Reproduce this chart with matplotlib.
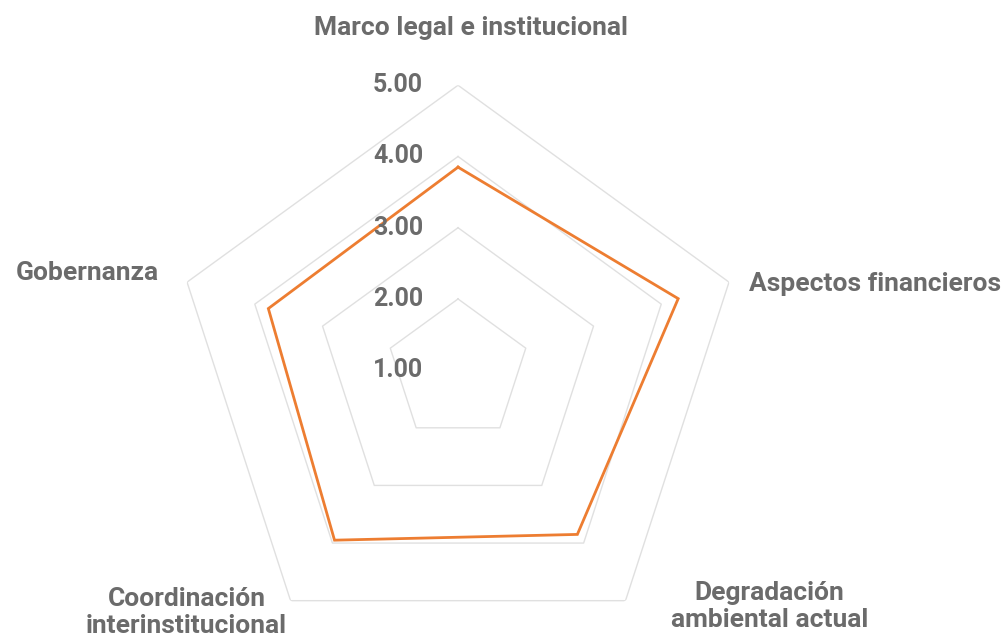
import numpy as np
import matplotlib
matplotlib.use("Agg")
import matplotlib.pyplot as plt

categories = ["Marco legal e institucional", "Aspectos financieros",
              "Degradación\nambiental actual", "Coordinación\ninterinstitucional",
              "Gobernanza"]
values = [3.85, 4.25, 3.85, 3.95, 3.80]
levels = [1.0, 2.0, 3.0, 4.0, 5.0]
level_labels = ["1.00", "2.00", "3.00", "4.00", "5.00"]

TEXT = "#6b6b6b"
GRID = "#e0e0e0"
ORANGE = "#ED7D31"
FONT = ["Roboto", "DejaVu Sans"]

fig = plt.figure(figsize=(10.06, 6.41), dpi=100)
ax = fig.add_axes([0.172, -0.022, 0.5666, 0.889], projection="polar")
ax.set_theta_offset(np.pi / 2)
ax.set_theta_direction(-1)
ax.set_ylim(levels[0], levels[-1])
ax.grid(False)
ax.spines["polar"].set_visible(False)
ax.set_xticks([])
ax.set_yticks([])
ax.patch.set_alpha(0)

n = len(categories)
angles = np.linspace(0, 2 * np.pi, n, endpoint=False)
closed = np.concatenate([angles, angles[:1]])

# pentagon grid rings
for lv in levels[1:]:
    ax.plot(closed, [lv] * (n + 1), color=GRID, lw=1.0, zorder=1)

# data series
vals = values + values[:1]
ax.plot(closed, vals, color=ORANGE, lw=2.0, zorder=3, solid_joinstyle="miter")

# radial value labels along the top spoke
for lv, lab in zip(levels, level_labels):
    ax.annotate(lab, xy=(0, lv), xytext=(-35, 0), textcoords="offset pixels",
                ha="right", va="center", fontsize=18, color=TEXT,
                family=FONT, fontweight="bold", annotation_clip=False)

# category labels around the outer ring
offsets = [(13, 57, "center"), (20, -2, "left"), (144, -6, "center"),
           (-104, -12, "center"), (-100, 9, "center")]
for ang, cat, (dx, dy, ha) in zip(angles, categories, offsets):
    ax.annotate(cat, xy=(ang, levels[-1]), xytext=(dx, dy),
                textcoords="offset pixels", ha=ha, va="center",
                fontsize=19, color=TEXT, family=FONT, fontweight="bold",
                linespacing=1.15, annotation_clip=False)

fig.savefig("out.png", dpi=100)
